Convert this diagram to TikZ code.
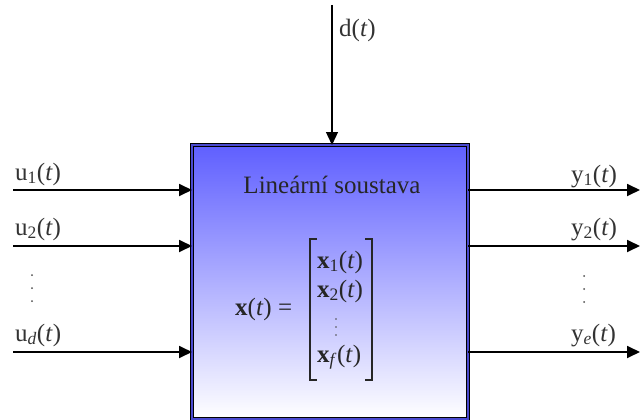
\documentclass[tikz,border=0pt]{standalone}
\usepackage{fontspec}
\setmainfont{Liberation Serif}
\usetikzlibrary{arrows.meta,calc}
\definecolor{boxblue}{HTML}{5F5FFF}
\definecolor{rimblue}{HTML}{4A4AD0}
\definecolor{lblgray}{HTML}{333333}
\newcommand{\sig}[2]{#1\textsubscript{#2}(\textit{t})}
\begin{document}
\begin{tikzpicture}[x=1pt,y=-1pt,
  sysbox/.style={draw=black,line width=0.9pt,double=rimblue,double distance=2.6pt,
    top color=boxblue,bottom color=white,minimum width=276pt,minimum height=274pt,
    inner sep=0pt,outer sep=0pt},
  sigarrow/.style={line width=1.8pt,-{Triangle[length=13pt,width=12pt]}},
  distarrow/.style={line width=1.3pt,-{Triangle[length=13pt,width=12pt]}},
  lbl/.style={font=\fontsize{25}{29}\selectfont,text=lblgray,anchor=base west,inner sep=0pt},
  boxtxt/.style={font=\fontsize{25}{29}\selectfont,text=black!85,inner sep=0pt},
  vdot/.style={circle,fill=black!70,inner sep=0pt,minimum size=2pt},
  bracket/.style={line width=1.4pt,black!85}]
\useasboundingbox (0,0) rectangle (640,420);

% the system block
\node[sysbox] (box) at (330,282) {};
\node[boxtxt,anchor=base] (title) at (332,193) {Lineární soustava};

% state vector
\node[boxtxt,anchor=base west] (xeq) at (235,315) {\textbf{x}(\textit{t}) =};
\node[boxtxt,anchor=base west] (x1) at (317,268) {\textbf{x}\textsubscript{1}(\textit{t})};
\node[boxtxt,anchor=base west] (x2) at (317,297) {\textbf{x}\textsubscript{2}(\textit{t})};
\node[boxtxt,anchor=base west] (xf) at (317,362) {\textbf{x}\textsubscript{\textit{f}}(\textit{t})};
\foreach \yy [count=\k] in {319,327,335} \node[vdot,minimum size=1.8pt] (xd\k) at (336,\yy) {};
\coordinate (bl) at (310,239);
\coordinate (br) at (372,239);
\draw[bracket] ($(bl)+(7,0)$) -- (bl) -- (310,380) -- (317,380);
\draw[bracket] ($(br)+(-7,0)$) -- (br) -- (372,380) -- (365,380);

% inputs
\coordinate (u1s) at (13,190);
\coordinate (u2s) at (13,246);
\coordinate (uds) at (13,352);
\draw[sigarrow] (u1s) -- (u1s -| box.west);
\draw[sigarrow] (u2s) -- (u2s -| box.west);
\draw[sigarrow] (uds) -- (uds -| box.west);
\node[lbl] (u1) at (15,180) {\sig{u}{1}};
\node[lbl] (u2) at (15,235) {\sig{u}{2}};
\node[lbl] (ud) at (15,341) {\sig{u}{\textit{d}}};
\foreach \yy [count=\k] in {275,288,301} \node[vdot] (ud\k) at (32,\yy) {};

% outputs
\coordinate (y1e) at (640,190);
\coordinate (y2e) at (640,246);
\coordinate (yee) at (640,352);
\draw[sigarrow] (y1e -| box.east) -- (y1e);
\draw[sigarrow] (y2e -| box.east) -- (y2e);
\draw[sigarrow] (yee -| box.east) -- (yee);
\node[lbl] (y1) at (571,182) {\sig{y}{1}};
\node[lbl] (y2) at (571,235) {\sig{y}{2}};
\node[lbl] (ye) at (571,341) {\sig{y}{\textit{e}}};
\foreach \yy [count=\k] in {276,289,302} \node[vdot] (yd\k) at (584,\yy) {};

% disturbance
\coordinate (ds) at (332,5);
\draw[distarrow] (ds) -- (ds |- box.north);
\node[lbl] (d) at (339,37) {d(\textit{t})};
\end{tikzpicture}
\end{document}
